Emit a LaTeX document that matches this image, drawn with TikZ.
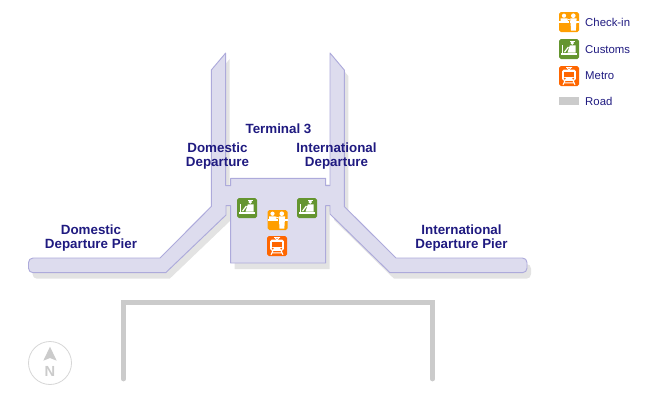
\documentclass[tikz,border=0pt]{standalone}
\usepackage{fontspec}
\setmainfont{Liberation Sans}
\definecolor{pierfill}{HTML}{DDDCEE}
\definecolor{pierline}{HTML}{ADAADB}
\definecolor{piershadow}{HTML}{E3E3E3}
\definecolor{roadgray}{HTML}{CBCBCB}
\definecolor{labelblue}{HTML}{1F1A80}
\definecolor{checkinorange}{HTML}{FF9E00}
\definecolor{customsgreen}{HTML}{64952F}
\definecolor{metroorange}{HTML}{FF6600}
\tikzset{
  maplabel/.style={text=labelblue,font=\bfseries\fontsize{11.4pt}{11.3pt}\selectfont,align=center,inner sep=0pt},
  legendlabel/.style={text=labelblue,font=\fontsize{9.7pt}{10pt}\selectfont,anchor=west,inner sep=0pt},
  icontile/.style={rounded corners=1.5pt},
  pics/checkinicon/.style={code={
    \fill [checkinorange,icontile] (-10,-10) rectangle (10,10);
    \fill [white] (-5,6.3) circle (2.1);
    \fill [white] (4.3,6.3) circle (2.3);
    \fill [white] (-8.5,3.6) -- (-2,3.6) -- (-1,1) -- (-8.5,1) -- cycle;
    \fill [white] (1.3,3.6) -- (7.6,3.6) -- (6.8,-8.5) -- (2,-8.5) -- cycle;
    \fill [white] (-10,1) rectangle (10,-1.3);
    \draw [white,line width=0.7pt] (-2,3) -- (1.5,2);
    \fill [checkinorange] (0,1) rectangle (1,-1.3);
  }},
  pics/customsicon/.style={code={
    \fill [customsgreen,icontile] (-10,-10) rectangle (10,10);
    \fill [white] (3.3,6) circle (1.9);
    \fill [white] (0.5,8) rectangle (6,7);
    \fill [white] (0.8,3.7) -- (6.5,3.7) -- (6.5,-3.7) -- (-1.5,-3.7) -- cycle;
    \draw [white,line width=1pt] (-4.5,-3.2) -- (-0.6,2);
    \fill [white] (-7.4,4) rectangle (-5.9,-3.7);
    \fill [white] (-8.3,-3.7) rectangle (7.7,-6);
  }},
  pics/metroicon/.style={code={
    \fill [metroorange,icontile] (-10,-10) rectangle (10,10);
    \fill [white,rounded corners=1.5pt] (-6.8,6.5) rectangle (6.8,-4.8);
    \draw [white,line width=0.8pt] (-3,8.5) -- (3,8.5) (-2,8.5) -- (0,6) -- (2,8.5);
    \fill [metroorange] (-4.8,4) rectangle (4.8,-0.5);
    \fill [metroorange] (-4.2,-2.6) circle (1);
    \fill [metroorange] (4.2,-2.6) circle (1);
    \draw [white,line width=0.9pt] (-4,-4.5) -- (-6,-8.8) (4,-4.5) -- (6,-8.8) (-5,-6.8) -- (5,-6.8);
  }}
}
\begin{document}
\begin{tikzpicture}[x=0.03cm,y=-0.03cm]
\useasboundingbox (0,0) rectangle (653,409);
% terminal and piers
\def\terminalpath{(225.7,53) -- (211.3,70) -- (211.3,206.5) -- (160,258) -- (33,258)
  arc (-90:-180:4.5) -- (28.5,268.2) arc (180:90:4.5) -- (165.7,272.7) -- (226,215)
  -- (226,205.7) -- (230.7,205.7) -- (230.7,263) -- (325.7,263) -- (325.7,205.7)
  -- (330,205.7) -- (330,214) -- (390,272.7) -- (522.5,272.7) arc (90:0:4.5)
  -- (527,262.5) arc (0:-90:4.5) -- (396,258) -- (344.3,206.5) -- (344.3,70)
  -- (330,53) -- (330,185.7) -- (325.7,185.7) -- (325.7,178.3) -- (230.7,178.3)
  -- (230.7,185.7) -- (225.7,185.7) -- cycle}
\fill [piershadow,shift={(4,6)}] \terminalpath;
\draw [pierline,fill=pierfill,line width=0.8pt,line join=round] \terminalpath;
% road
\draw [roadgray,line width=4pt,line cap=round,line join=miter] (123.5,379) -- (123.5,302.7) -- (432.5,302.7) -- (432.5,379);
% compass
\draw [black!16,line width=0.7pt] (50,363) circle (21.5);
\fill [roadgray] (50,346.7) -- (56.7,360.7) -- (50,358) -- (43.3,360.7) -- cycle;
\node [inner sep=0pt,text=roadgray,font=\bfseries\fontsize{12.5pt}{13pt}\selectfont] (northmark) at (50,371.5) {N};
% labels
\node [maplabel] (terminallabel) at (278.5,128.5) {Terminal 3};
\node [maplabel] (domesticlabel) at (217.5,156) {Domestic\\Departure};
\node [maplabel] (internationallabel) at (336.5,156) {International\\Departure};
\node [maplabel] (domesticpier) at (91,238) {Domestic\\Departure Pier};
\node [maplabel] (internationalpier) at (461.5,238) {International\\Departure Pier};
% icons
\pic [yscale=-1] at (247,208) {customsicon};
\pic [yscale=-1] at (307,208) {customsicon};
\pic [yscale=-1] at (277.5,220) {checkinicon};
\pic [yscale=-1] at (277,246) {metroicon};
% legend
\pic [yscale=-1] at (569,22) {checkinicon};
\pic [yscale=-1] at (569,49) {customsicon};
\pic [yscale=-1] at (569,76) {metroicon};
\fill [roadgray] (559,97.3) rectangle (579,105);
\node [legendlabel] (checkinlabel) at (585,22.7) {Check-in};
\node [legendlabel] (customslabel) at (585,49.7) {Customs};
\node [legendlabel] (metrolabel) at (585,76) {Metro};
\node [legendlabel] (roadlabel) at (585,101.7) {Road};
\end{tikzpicture}
\end{document}
